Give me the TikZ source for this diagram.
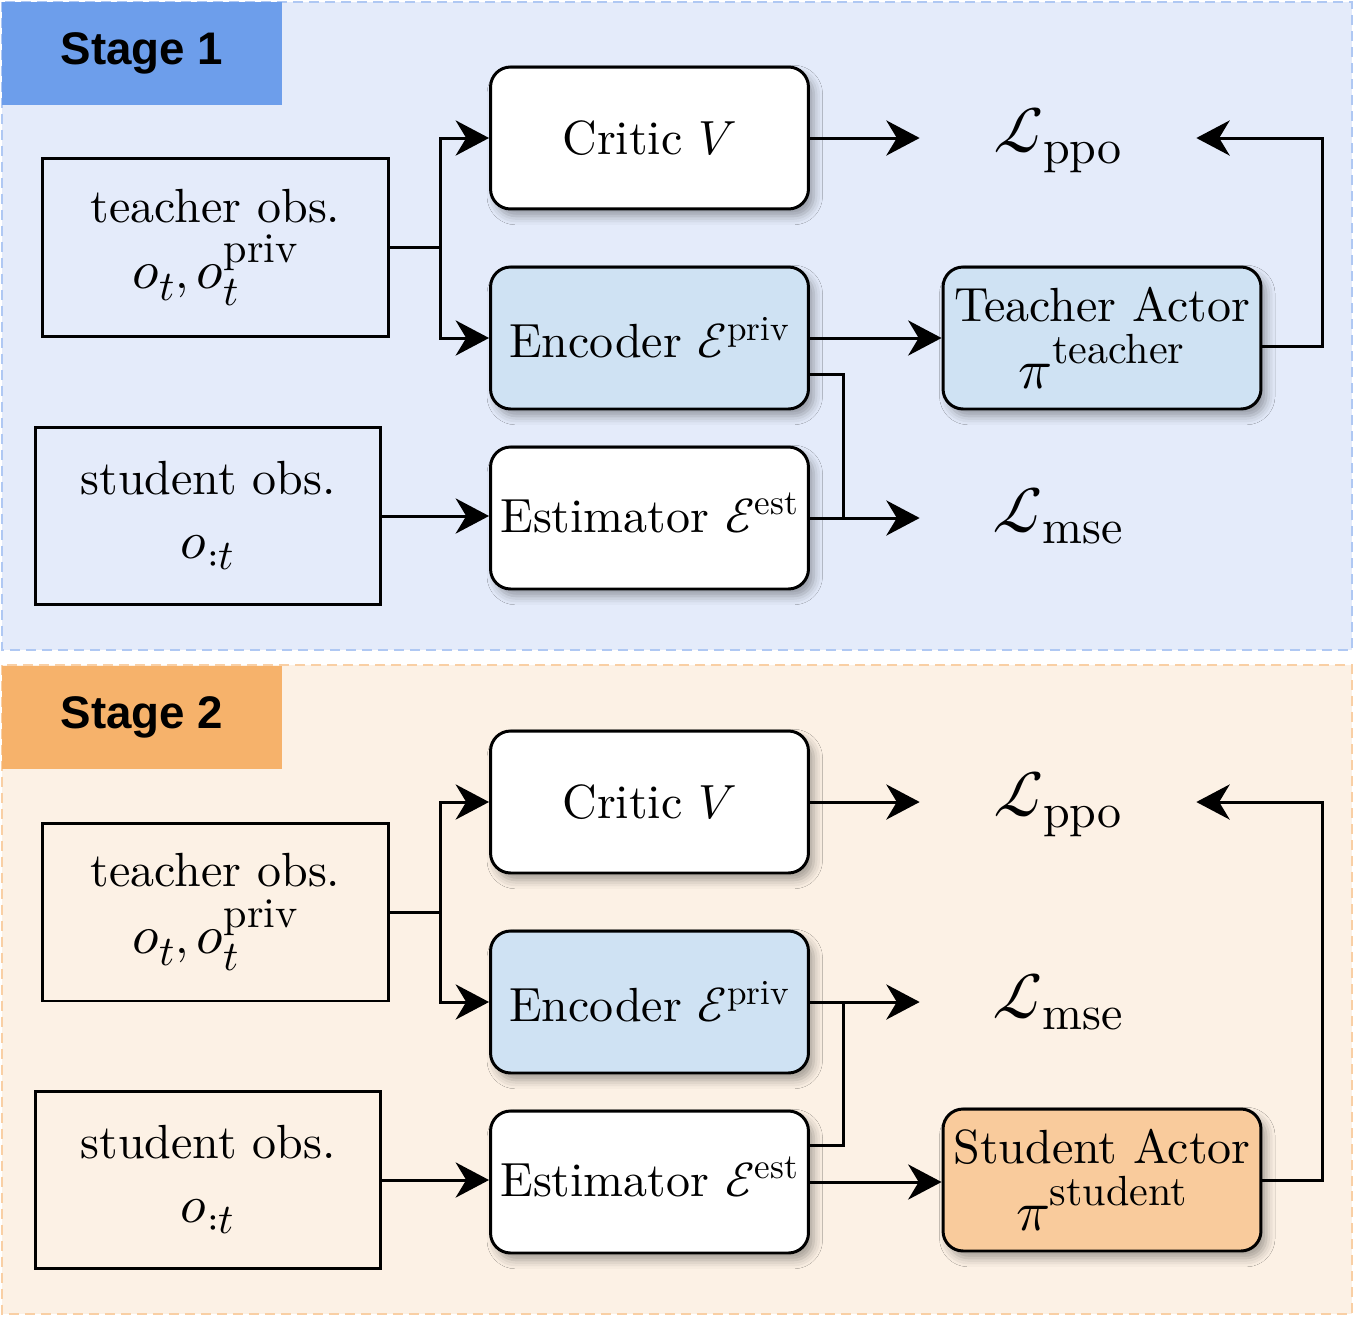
\documentclass[tikz,border=0pt]{standalone}
\usepackage{fontspec}
\usepackage{unicode-math}
\setmainfont{lmroman10-regular.otf}[BoldFont=lmroman10-bold.otf, ItalicFont=lmroman10-italic.otf]
\setmathfont{latinmodern-math.otf}
\newfontfamily\stagefont{Liberation Sans}
\usetikzlibrary{arrows.meta,shadows.blur,calc}
\newcommand\scr[2]{\mbox{\fontsize{#1}{#1}\selectfont #2}}
\definecolor{panelA}{HTML}{E4EBFA}
\definecolor{panelAline}{HTML}{AFC8F3}
\definecolor{panelB}{HTML}{FCF1E5}
\definecolor{panelBline}{HTML}{F9CFA4}
\definecolor{labA}{HTML}{6D9EEB}
\definecolor{labB}{HTML}{F6B26B}
\definecolor{encfill}{HTML}{CFE2F3}
\definecolor{stufill}{HTML}{F9CB9C}
\tikzset{
  every node/.style={font=\fontsize{27.3}{36}\selectfont},
  rbox/.style={draw, line width=1.7pt, rounded corners=0.4cm, minimum width=6.36cm,
    minimum height=2.84cm, inner sep=1pt, align=center,
    blur shadow={shadow xshift=3pt, shadow yshift=-4pt, shadow blur radius=5pt, shadow opacity=35}},
  sbox/.style={draw, line width=1.7pt, align=center},
  conn/.style={line width=1.7pt, -{Stealth[length=19pt,width=20pt,inset=6pt]}},
  wire/.style={line width=1.7pt},
  panel/.style={line width=1.6pt, dash pattern=on 0.2cm off 0.12cm},
  stagelab/.style={minimum width=5.6cm, minimum height=2.06cm, inner sep=0pt,
    font=\stagefont\bfseries\fontsize{26}{30}\selectfont},
  loss/.style={minimum width=5.52cm, inner sep=0pt, font=\fontsize{37}{42}\selectfont},
}
\begin{document}
\begin{tikzpicture}[x=0.02cm,y=-0.02cm]
\useasboundingbox (0,0) rectangle (1356,1316);
% panels
\draw[panel, draw=panelAline, fill=panelA] (2,2) rectangle (1352,650);
\draw[panel, draw=panelBline, fill=panelB] (2,665) rectangle (1352,1314);
\node[stagelab, fill=labA] (lab1) at (142,53.5) {Stage 1};
\node[stagelab, fill=labB] (lab2) at (142,717.5) {Stage 2};

% ---------- Stage 1 ----------
\node[sbox, minimum width=6.92cm, minimum height=3.56cm] (tobs1) at (215.5,247.5)
  {teacher obs.\\[2pt] ${\scr{31}{$o$}}_{\scr{24}{$t$}}, {\scr{31}{$o$}}_{\scr{24}{$t$}}^{\raisebox{5pt}{\scr{24}{priv}}}$};
\node[sbox, minimum width=6.9cm, minimum height=3.54cm] (sobs1) at (208,516)
  {student obs.\\ ${\scr{30}{$o$}}_{\scr{24}{$\mathord{:}t$}}$};
\node[rbox, fill=white] (critic1) at (649.5,138) {Critic $V$};
\node[rbox, fill=encfill] (enc1) at (649.5,338) {Encoder $\mathcal{E}^{\scr{20}{priv}}$};
\node[rbox, fill=white] (est1) at (649.5,518) {\raisebox{6pt}{Estimator $\mathcal{E}^{\scr{20}{est}}$}};
\node[rbox, fill=encfill] (tact1) at (1102,338)
  {Teacher Actor\\[2pt] ${\scr{32}{$\pi$}}^{\raisebox{4pt}{\scr{24}{teacher}}}$};
\node[loss] (lppo1) at (1058,140) {$\mathcal{L}_{\raisebox{3pt}{\scr{27.3}{ppo}}}$};
\node[loss] (lmse1) at (1058,518) {$\mathcal{L}_{\raisebox{3pt}{\scr{27.3}{mse}}}$};

\coordinate (f1) at ($(tobs1.east)+(51,0)$);
\draw[wire] (tobs1.east) -- (f1);
\draw[conn] (f1) |- (critic1.west);
\draw[conn] (f1) |- (enc1.west);
\draw[conn] (critic1.east) -- (critic1.east -| lppo1.west);
\draw[conn] (enc1.east) -- (enc1.east -| tact1.west);
\coordinate (b1) at ($(enc1.south east)!0.25!(enc1.north east)$);
\coordinate (j1) at ($(est1.east)+(34,0)$);
\draw[wire] (b1) -| (j1);
\draw[conn] (est1.east) -- (est1.east -| lmse1.west);
\draw[conn] (sobs1.east) -- (sobs1.east -| est1.west);
\coordinate (r1) at ([shift={(0,8)}]tact1.east);
\draw[conn] (r1) -- ++(60,0) |- (critic1.east -| lppo1.east);

% ---------- Stage 2 ----------
\node[sbox, minimum width=6.92cm, minimum height=3.56cm] (tobs2) at (215.5,912)
  {teacher obs.\\[2pt] ${\scr{31}{$o$}}_{\scr{24}{$t$}}, {\scr{31}{$o$}}_{\scr{24}{$t$}}^{\raisebox{5pt}{\scr{24}{priv}}}$};
\node[sbox, minimum width=6.9cm, minimum height=3.54cm] (sobs2) at (208,1180)
  {student obs.\\ ${\scr{30}{$o$}}_{\scr{24}{$\mathord{:}t$}}$};
\node[rbox, fill=white] (critic2) at (649.5,802) {Critic $V$};
\node[rbox, fill=encfill] (enc2) at (649.5,1002) {Encoder $\mathcal{E}^{\scr{20}{priv}}$};
\node[rbox, fill=white] (est2) at (649.5,1182) {\raisebox{6pt}{Estimator $\mathcal{E}^{\scr{20}{est}}$}};
\node[rbox, fill=stufill] (sact2) at (1102,1180)
  {Student Actor\\[2pt] ${\scr{32}{$\pi$}}^{\raisebox{4pt}{\scr{24}{student}}}$};
\node[loss] (lppo2) at (1058,804) {$\mathcal{L}_{\raisebox{3pt}{\scr{27.3}{ppo}}}$};
\node[loss] (lmse2) at (1058,1004) {$\mathcal{L}_{\raisebox{3pt}{\scr{27.3}{mse}}}$};

\coordinate (f2) at ($(tobs2.east)+(51,0)$);
\draw[wire] (tobs2.east) -- (f2);
\draw[conn] (f2) |- (critic2.west);
\draw[conn] (f2) |- (enc2.west);
\draw[conn] (critic2.east) -- (critic2.east -| lppo2.west);
\draw[conn] (enc2.east) -- (enc2.east -| lmse2.west);
\coordinate (b2) at ($(est2.south east)!0.75!(est2.north east)$);
\coordinate (j2) at ($(enc2.east)+(34,0)$);
\draw[wire] (b2) -| (j2);
\draw[conn] (est2.east) -- (est2.east -| sact2.west);
\draw[conn] (sobs2.east) -- (sobs2.east -| est2.west);
\draw[conn] (sact2.east) -- ++(60,0) |- (critic2.east -| lppo2.east);
\end{tikzpicture}
\end{document}
